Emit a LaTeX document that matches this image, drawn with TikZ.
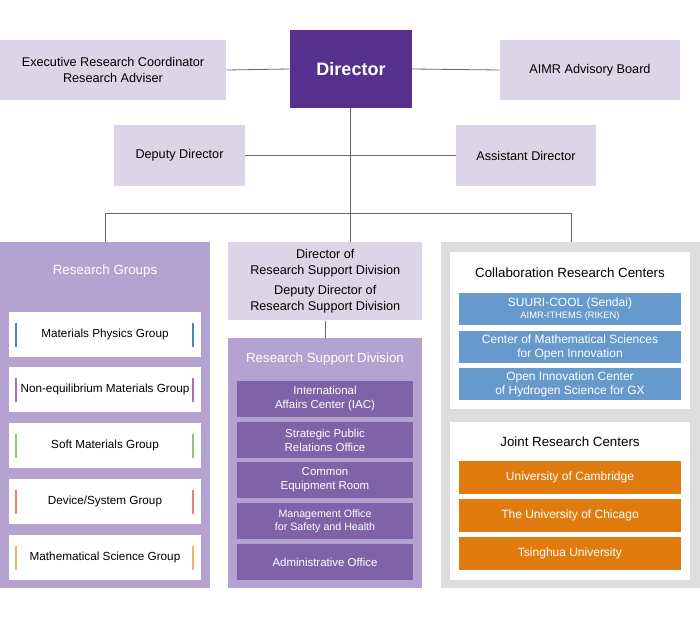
\documentclass[tikz,border=0pt]{standalone}
\usepackage{fontspec}
\setmainfont{Liberation Sans}
\begin{document}
\begin{tikzpicture}[x=0.75pt,y=-0.75pt,
  box/.style={draw=none,inner sep=0pt,align=center,font=\fontsize{9.5}{11.5}\selectfont},
  lav/.style={box,fill=lavL},
  grp/.style={box,fill=white,minimum width=144pt,minimum height=33.75pt},
  rsd/.style={box,fill=rsdD,text=white,minimum width=132pt,minimum height=27pt,font=\fontsize{8.6}{10.5}\selectfont},
  blu/.style={box,fill=cblue,text=white,minimum width=166.5pt,minimum height=24pt,font=\fontsize{9}{10.5}\selectfont},
  org/.style={box,fill=corg,text=white,minimum width=166.5pt,minimum height=24.75pt,font=\fontsize{9}{10.5}\selectfont},
  ln/.style={draw=gray!80!black,line width=0.6pt}]
\definecolor{lavL}{HTML}{DCD5E8}
\definecolor{lavM}{HTML}{B4A3D0}
\definecolor{dirC}{HTML}{55308D}
\definecolor{rsdD}{HTML}{7F62A8}
\definecolor{cblue}{HTML}{6699CC}
\definecolor{corg}{HTML}{E07B10}
\definecolor{gpan}{HTML}{DDDDDD}
\useasboundingbox (0,0) rectangle (700,632);
% top
\node[lav,minimum width=169.5pt,minimum height=45pt] (exec) at (113,70) {Executive Research Coordinator\\Research Adviser};
\node[box,fill=dirC,text=white,minimum width=91.5pt,minimum height=58.5pt,font=\fontsize{13.5}{16}\selectfont\bfseries] (dir) at (351,69) {Director};
\node[lav,minimum width=135pt,minimum height=45pt] (adv) at (590,70) {AIMR Advisory Board};
\node[lav,minimum width=98pt,minimum height=45.75pt] (dep) at (179.5,155.5) {Deputy Director};
\node[lav,minimum width=105pt,minimum height=45.75pt] (asst) at (526,155.5) {Assistant Director};
\draw[ln] (exec.east) -- (dir.west);
\draw[ln] (dir.east) -- (adv.west);
\coordinate (j1) at (350,155);
\coordinate (j2) at (350,213);
\draw[ln] (dir.south -| j1) -- (j2);
\draw[ln] (dep.east) -- (asst.west);
% panels
\node[box,fill=lavM,minimum width=157.5pt,minimum height=259.5pt,anchor=north west] (rg) at (0,242) {};
\node[lav,minimum width=145.5pt,minimum height=58.5pt,anchor=north west] (rsdd) at (228,242) {Director of\\Research Support Division\\[4pt]Deputy Director of\\Research Support Division};
\node[box,fill=lavM,minimum width=145.5pt,minimum height=187.5pt,anchor=north west] (rsp) at (228,338) {};
\node[box,fill=gpan,minimum width=194.25pt,minimum height=259.5pt,anchor=north west] (gp) at (441,242) {};
\coordinate (h1) at (105,213);
\coordinate (h2) at (571,213);
\draw[ln] (h1) -- (h2);
\draw[ln] (h1) -- (h1 |- rg.north);
\draw[ln] (j2) -- (j2 |- rsdd.north);
\draw[ln] (h2) -- (h2 |- gp.north);
\draw[ln] (rsdd.south) -- (rsp.north);
% research groups
\node[box,text=white,font=\fontsize{10}{12}\selectfont] (rgt) at (105,271) {Research Groups};
\foreach \y/\t/\c [count=\i] in {334.5/{Materials Physics Group}/4A86C8,389.5/{Non-equilibrium Materials Group}/A070B8,445.5/{Soft Materials Group}/8CC878,501.5/{Device/System Group}/E88080,557.5/{Mathematical Science Group}/F0B070}{
  \definecolor{bc}{HTML}{\c}
  \node[grp,font=\fontsize{8.8}{10.5}\selectfont] (g\i) at (105,\y) {\t};
  \draw[bc,line width=2.2pt] (16,\y-12) -- (16,\y+12);
  \draw[bc,line width=2.2pt] (193,\y-12) -- (193,\y+12);
}
% rsd
\node[box,text=white,font=\fontsize{10}{12}\selectfont] (rst) at (325,359) {Research Support Division};
\node[rsd] (r1) at (325,399) {International\\Affairs Center (IAC)};
\node[rsd] (r2) at (325,440) {Strategic Public\\Relations Office};
\node[rsd] (r3) at (325,480) {Common\\Equipment Room};
\node[rsd,font=\fontsize{8}{10}\selectfont] (r4) at (325,521) {Management Office\\for Safety and Health};
\node[rsd] (r5) at (325,562) {Administrative Office};
% right
\node[box,fill=white,minimum width=180pt,minimum height=117.75pt,anchor=north west] (cw) at (450,252) {};
\node[box,fill=white,minimum width=180pt,minimum height=118.5pt,anchor=north west] (jw) at (450,422) {};
\node[box,font=\fontsize{10}{12}\selectfont] (ct) at (570,273) {Collaboration Research Centers};
\node[blu] (b1) at (570,309) {SUURI-COOL (Sendai)\\[-1pt]{\fontsize{7}{8}\selectfont AIMR-ITHEMS (RIKEN)}};
\node[blu] (b2) at (570,347) {Center of Mathematical Sciences\\for Open Innovation};
\node[blu] (b3) at (570,384) {Open Innovation Center\\of Hydrogen Science for GX};
\node[box,font=\fontsize{10}{12}\selectfont] (jt) at (570,442) {Joint Research Centers};
\node[org] (o1) at (570,477.5) {University of Cambridge};
\node[org] (o2) at (570,515.5) {The University of Chicago};
\node[org] (o3) at (570,553.5) {Tsinghua University};
\end{tikzpicture}
\end{document}
